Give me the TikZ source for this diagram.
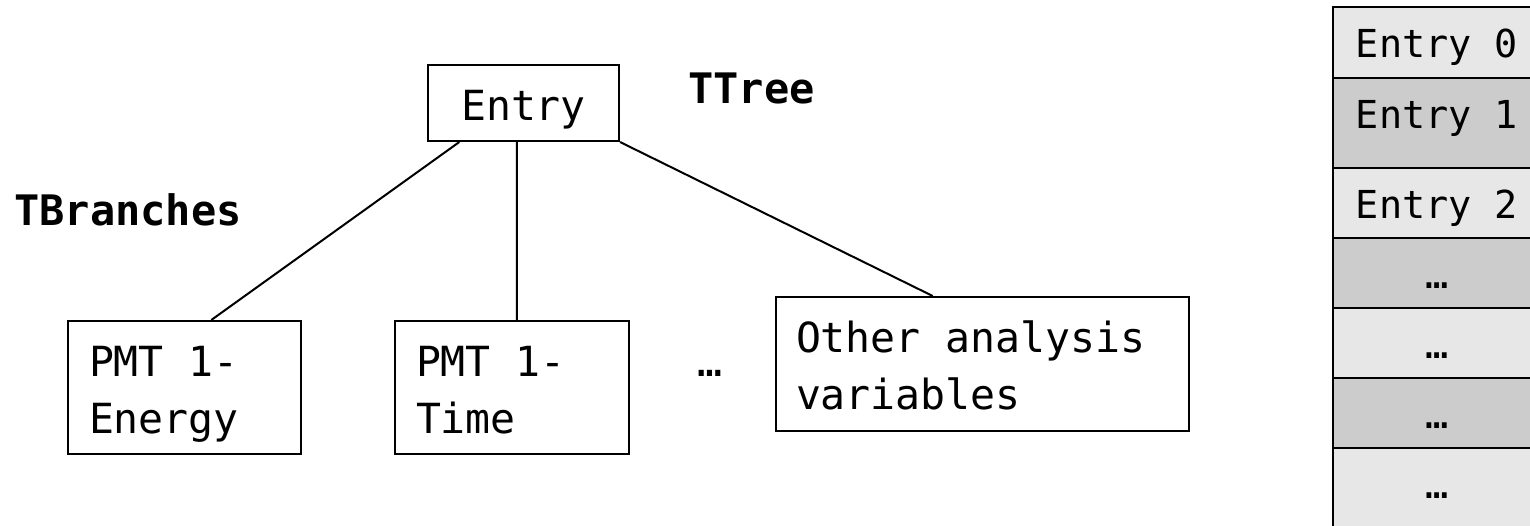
\documentclass[tikz,border=0pt]{standalone}
\usepackage{fontspec}
\setmonofont{DejaVu Sans Mono}
\usetikzlibrary{calc}
\definecolor{lightrow}{RGB}{231,231,231}
\definecolor{darkrow}{RGB}{204,204,204}
\begin{document}
\begin{tikzpicture}[x=1pt,y=-1pt,
    box/.style={draw, line width=2pt, inner xsep=21pt, inner ysep=0pt,
      font=\ttfamily\fontsize{41.5}{57}\selectfont,
      execute at begin node={\spaceskip=0pt\xspaceskip=0pt\relax}},
    leaf/.style={box, minimum height=133pt, text height=32pt, text depth=55pt},
    title/.style={font=\ttfamily\bfseries\fontsize{42}{57}\selectfont, anchor=base, inner sep=0pt},
    cell/.style={draw, line width=2.5pt, minimum width=208pt, anchor=north west,
      inner sep=0pt, outer sep=0pt},
    celltext/.style={font=\ttfamily\fontsize{38.5}{46}\selectfont, anchor=base, inner sep=0pt},
    every path/.style={line width=2pt}]
    \useasboundingbox (0,0) rectangle (1530,525);
    % tree
    \node[box, minimum width=191pt, minimum height=76pt, text height=34pt, text depth=0pt] (E) at (523.5,103) {Entry};
    \node[leaf, text width=191pt] (P) at (184.5,387.5) {PMT 1-\\Energy};
    \node[leaf, text width=192pt] (T) at (512,387.5) {PMT 1-\\Time};
    \node[leaf, text width=373pt, inner xsep=20pt, minimum height=134pt] (O) at (982.5,364) {Other analysis\\variables};
    \node[box, draw=none, anchor=base, inner sep=0pt] (D) at (710,376) {…};
    \node[title] (TB) at (128,225) {TBranches};
    \node[title] (TT) at (751.5,103) {TTree};
    \draw ($(E.south west)!0.1675!(E.south east)$) -- ($(P.north west)!0.614!(P.north east)$);
    \draw ($(E.south west)!0.466!(E.south east)$) -- ($(T.north west)!0.521!(T.north east)$);
    \draw (E.south east) -- ($(O.north west)!0.38!(O.north east)$);
    % entries
    \foreach \i/\top/\h/\c/\txt in {0/7/71/lightrow/Entry 0, 1/78/90/darkrow/Entry 1,
        2/168/70/lightrow/Entry 2, 3/238/70/darkrow/…, 4/308/70/lightrow/…,
        5/378/70/darkrow/…, 6/448/90/lightrow/…}
    {
      \node[cell, fill=\c, minimum height=\h pt] (R\i) at (1333,\top) {};
      \node[celltext] (L\i) at ($(R\i.north)+(0,50)$) {\txt};
    }
\end{tikzpicture}
\end{document}
